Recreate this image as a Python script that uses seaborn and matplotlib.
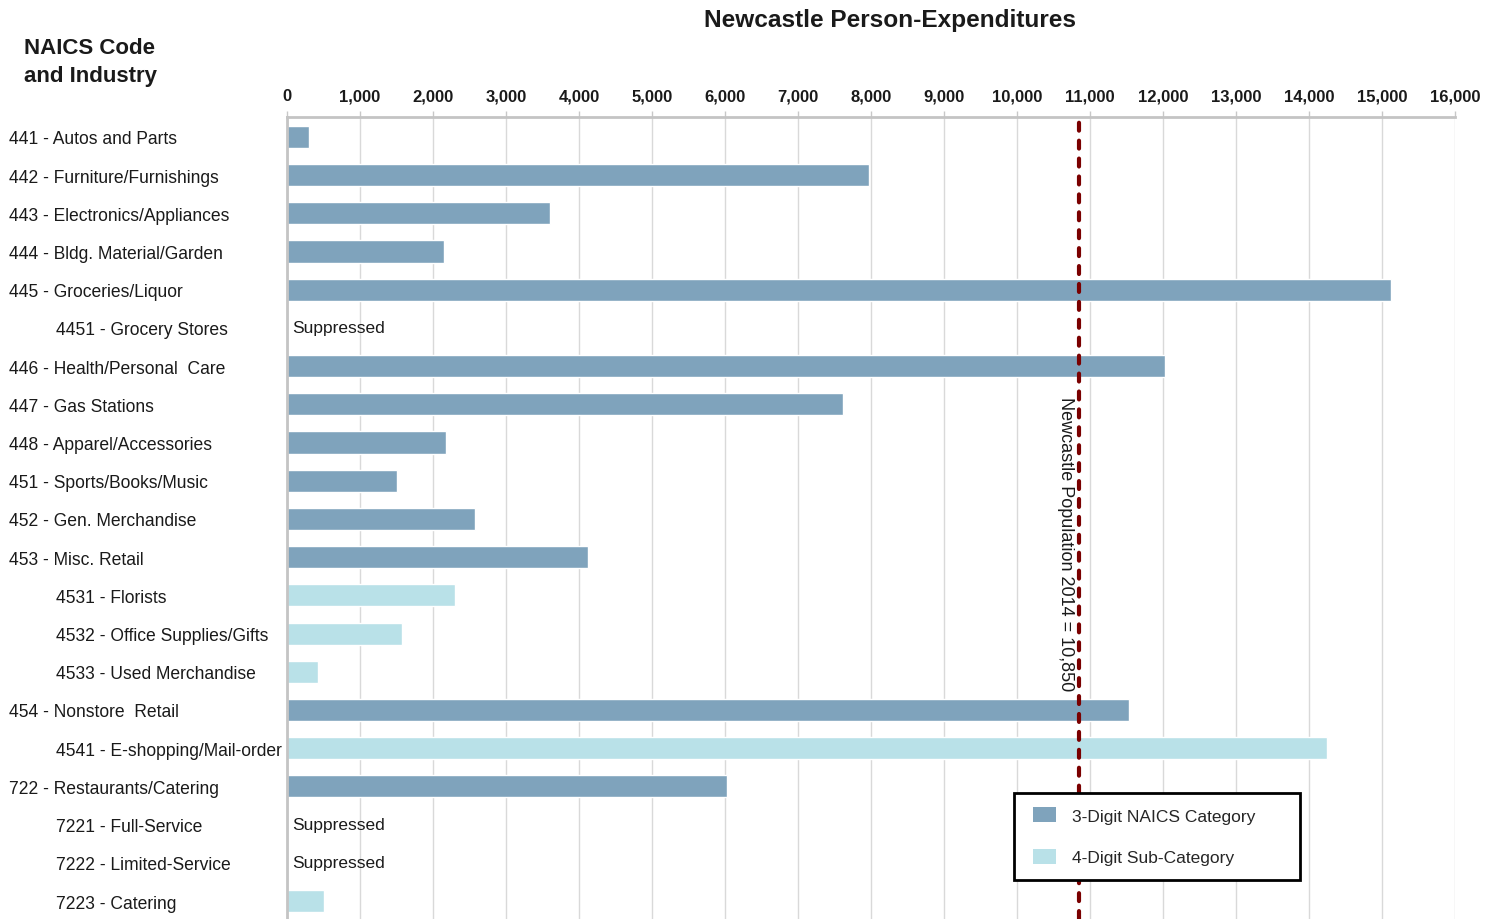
import numpy as np
import pandas as pd
import matplotlib
matplotlib.use("Agg")
import matplotlib.pyplot as plt
import matplotlib.transforms as mtransforms
from matplotlib.patches import Patch, Rectangle
from matplotlib.legend_handler import HandlerPatch
import seaborn as sns

# Industry rows (top to bottom) and person-expenditures; None = suppressed
codes = ["441", "442", "443", "444", "445", "4451", "446", "447", "448", "451",
         "452", "453", "4531", "4532", "4533", "454", "4541", "722", "7221",
         "7222", "7223"]
industries = ["Autos and Parts", "Furniture/Furnishings", "Electronics/Appliances",
              "Bldg. Material/Garden", "Groceries/Liquor", "Grocery Stores",
              "Health/Personal  Care", "Gas Stations", "Apparel/Accessories",
              "Sports/Books/Music", "Gen. Merchandise", "Misc. Retail", "Florists",
              "Office Supplies/Gifts", "Used Merchandise", "Nonstore  Retail",
              "E-shopping/Mail-order", "Restaurants/Catering", "Full-Service",
              "Limited-Service", "Catering"]
expenditures = [300, 7970, 3600, 2150, 15120, None, 12030, 7615, 2180, 1510,
                2575, 4120, 2300, 1575, 425, 11530, 14250, 6030, None, None, 510]
population_2014 = 10850
xticks = list(range(0, 16001, 1000))

level_names = ["3-Digit NAICS Category", "4-Digit Sub-Category"]
levels = [level_names[0] if len(c) == 3 else level_names[1] for c in codes]
labels = [f"{c} - {n}" for c, n in zip(codes, industries)]

df = pd.DataFrame({
    "label": labels,
    "value": [np.nan if v is None else v for v in expenditures],
    "level": levels,
})

palette = {level_names[0]: "#7FA3BC", level_names[1]: "#B9E1E8"}
text_color = "#1a1a1a"

sns.set_theme(style="white")
plt.rcParams["font.family"] = ["Liberation Sans", "DejaVu Sans"]

fig = plt.figure(figsize=(15.01, 9.20), dpi=100)
ax = fig.add_axes([287 / 1501, 0.0, 1168 / 1501, 1 - 118 / 920])

sns.barplot(data=df, x="value", y="label", hue="level", order=labels,
            hue_order=level_names, palette=palette, dodge=False, width=0.58,
            orient="h", saturation=1, errorbar=None, legend=False, ax=ax,
            zorder=2)

ax.set_xlim(0, 16000)
ax.set_ylim(len(labels) - 0.53, -0.52)
ax.set_xlabel("")
ax.set_ylabel("")

# Value axis on top
ax.xaxis.tick_top()
ax.set_xticks(xticks)
ax.set_xticklabels([f"{t:,}" for t in xticks], fontsize=12, fontweight="bold",
                   color=text_color)
ax.tick_params(axis="x", which="major", top=True, bottom=False, direction="out",
               length=4, width=1, color="#C8C8C8", pad=6)
ax.set_yticks([])
ax.grid(axis="x", color="#D9D9D9", linewidth=1, zorder=0)
ax.set_axisbelow(True)
for side in ("right", "bottom"):
    ax.spines[side].set_visible(False)
for side in ("left", "top"):
    ax.spines[side].set_color("#C4C4C4")
    ax.spines[side].set_linewidth(2)

# Row labels, sub-categories indented
ytrans = mtransforms.offset_copy(ax.get_yaxis_transform(), fig=fig, y=-2,
                                 units="dots")
for i, (code, lab) in enumerate(zip(codes, labels)):
    xpos = (9 - 287) / 1168 if len(code) == 3 else (56 - 287) / 1168
    ax.text(xpos, i, lab, transform=ytrans, ha="left", va="center",
            fontsize=12.65, color=text_color)

# Suppressed values
for i, v in enumerate(expenditures):
    if v is None:
        ax.annotate("Suppressed", xy=(0, i), xytext=(4, 0),
                    textcoords="offset points", ha="left", va="center",
                    fontsize=12.5, color=text_color)

# Population reference line
ax.axvline(population_2014, color="#7A0000", linewidth=3, dashes=(1.9, 2.4),
           dash_capstyle="round", zorder=4)
ax.text(population_2014 - 70, 10.63,
        f"Newcastle Population 2014 = {population_2014:,}", rotation=-90,
        ha="right", va="center", fontsize=13, color=text_color, zorder=5)


# Legend swatches sit a little inside their handle box
class InsetPatchHandler(HandlerPatch):
    def __init__(self, inset=4.3, **kw):
        super().__init__(**kw)
        self.inset = inset

    def create_artists(self, legend, orig_handle, xdescent, ydescent, width,
                       height, fontsize, trans):
        rect = Rectangle((-xdescent + self.inset, -ydescent),
                         width - self.inset, height)
        self.update_prop(rect, orig_handle, legend)
        rect.set_transform(trans)
        return [rect]


handles = [Patch(facecolor=palette[n], edgecolor="none", label=n) for n in level_names]
leg = ax.legend(handles=handles, loc="upper left",
                bbox_to_anchor=(727 / 1168, 42 / 802, 286 / 1168, 84 / 802),
                mode="expand", borderaxespad=0, fontsize=12.5, frameon=True,
                fancybox=False, framealpha=1, edgecolor="black",
                labelspacing=1.45, handlelength=1.6, handleheight=0.95,
                handletextpad=0.9, borderpad=0.82,
                handler_map={Patch: InsetPatchHandler(inset=3.6)})
leg.get_frame().set_linewidth(2)
leg.set_zorder(6)

fig.text(890 / 1501, 1 - 20 / 920, "Newcastle Person-Expenditures",
         ha="center", va="center", fontsize=17.6, fontweight="bold", color=text_color)
fig.text(24 / 1501, 1 - 62.5 / 920, "NAICS Code\nand Industry", ha="left",
         va="center", fontsize=16, fontweight="bold", linespacing=1.4,
         color=text_color)

fig.savefig("out.png", dpi=100)
